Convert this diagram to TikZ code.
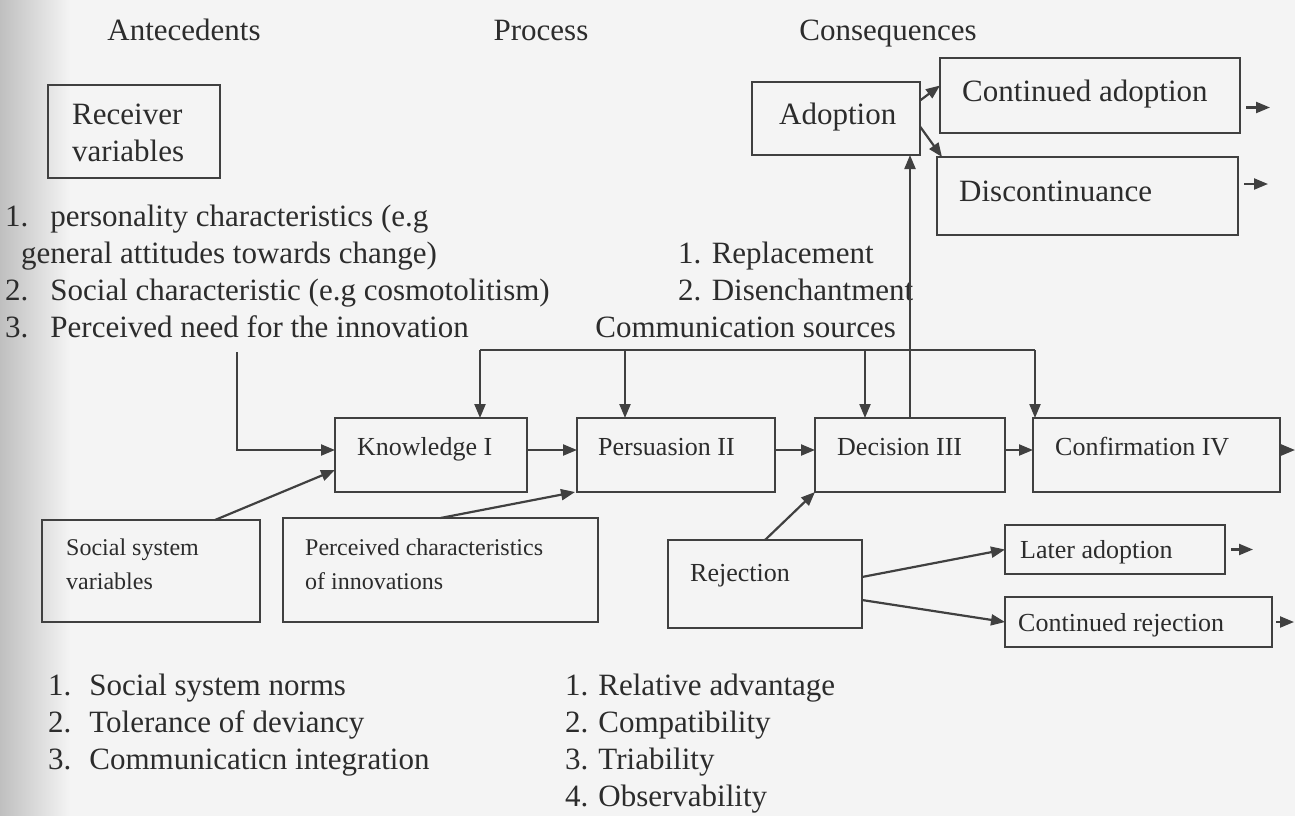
\documentclass[tikz,border=0pt]{standalone}
\usepackage{fontspec}
\setmainfont{Liberation Serif}
\usetikzlibrary{arrows.meta}
\definecolor{ink}{HTML}{2C2C2C}
\definecolor{lin}{HTML}{404040}
\definecolor{bg}{HTML}{F4F4F4}
\newcommand\fbig{\fontsize{31}{37}\selectfont}
\newcommand\fmid{\fontsize{26}{34}\selectfont}
\newcommand\fsml{\fontsize{24}{34}\selectfont}
\newcommand\mkbox[5]{\node[box, minimum width={#4pt-#2pt}, minimum height={#5pt-#3pt}] (#1) at (#2,#3) {};}
\begin{document}
\begin{tikzpicture}[x=1pt,y=-1pt,
  box/.style={draw=lin, line width=2.2pt, anchor=north west, inner sep=0pt, outer sep=0pt},
  conn/.style={draw=lin, line width=2.2pt, -{Triangle[length=14pt,width=11pt]}},
  plain/.style={draw=lin, line width=2.2pt},
  txt/.style={text=ink, inner sep=0pt, anchor=base west},
  hdr/.style={text=ink, inner sep=0pt, anchor=base, font=\fbig}]
\useasboundingbox (0,0) rectangle (1295,816);
\fill[bg] (0,0) rectangle (1295,816);
\shade[left color=black!25, right color=bg] (0,0) rectangle (70,816);

% headers
\node[hdr] (hA) at (184,41) {Antecedents};
\node[hdr] (hP) at (541,41) {Process};
\node[hdr] (hC) at (888,41) {Consequences};

% receiver variables
\mkbox{rv}{48}{85}{220}{178}
\node[txt, font=\fbig] (rvt) at (72,124) {\begin{tabular}[t]{@{}l@{}}Receiver\\variables\end{tabular}};
\node[txt, font=\fbig] (rvl) at (5,226) {\begin{tabular}[t]{@{}l@{\hspace{22pt}}l@{}}
1. & personality characteristics (e.g\\
\multicolumn{2}{@{}l@{}}{\hspace{16pt}general attitudes towards change)}\\
2. & Social characteristic (e.g cosmotolitism)\\
3. & Perceived need for the innovation
\end{tabular}};

% consequences (adoption)
\mkbox{ad}{752}{82}{920}{155}
\node[txt, font=\fbig] (adt) at (779,124) {Adoption};
\mkbox{ca}{940}{58}{1240}{133}
\node[txt, font=\fbig] (cat) at (962,101) {Continued adoption};
\mkbox{dc}{937}{157}{1238}{235}
\node[txt, font=\fbig] (dct) at (959,201) {Discontinuance};

% discontinuance reasons and communication sources
\node[txt, font=\fbig] (rep) at (678,263) {\begin{tabular}[t]{@{}l@{}}1. Replacement\\2. Disenchantment\end{tabular}};
\node[txt, font=\fbig, anchor=base east] (cs) at (896,337) {Communication sources};

% process boxes
\mkbox{kn}{335}{418}{527}{492}
\node[txt, font=\fmid] (knt) at (357,455) {Knowledge I};
\mkbox{pe}{577}{418}{775}{492}
\node[txt, font=\fmid] (pet) at (598,455) {Persuasion II};
\mkbox{de}{815}{418}{1005}{492}
\node[txt, font=\fmid] (det) at (837,455) {Decision III};
\mkbox{co}{1033}{418}{1280}{492}
\node[txt, font=\fmid] (cot) at (1055,455) {Confirmation IV};

% lower boxes
\mkbox{ss}{42}{520}{260}{622}
\node[txt, font=\fsml] (sst) at (66,555) {\begin{tabular}[t]{@{}l@{}}Social system\\variables\end{tabular}};
\mkbox{pc}{283}{518}{598}{622}
\node[txt, font=\fsml] (pct) at (305,555) {\begin{tabular}[t]{@{}l@{}}Perceived characteristics\\of innovations\end{tabular}};
\mkbox{rj}{668}{540}{862}{628}
\node[txt, font=\fmid] (rjt) at (690,581) {Rejection};
\mkbox{la}{1005}{525}{1225}{574}
\node[txt, font=\fmid] (lat) at (1020,558) {Later adoption};
\mkbox{cr}{1005}{597}{1272}{647}
\node[txt, font=\fmid] (crt) at (1018,631) {Continued rejection};

% bottom lists
\node[txt, font=\fbig] (sl) at (48,695) {\begin{tabular}[t]{@{}l@{\hspace{18pt}}l@{}}
1. & Social system norms\\
2. & Tolerance of deviancy\\
3. & Communicaticn integration
\end{tabular}};
\node[txt, font=\fbig] (pl) at (565,695) {\begin{tabular}[t]{@{}l@{\hspace{10pt}}l@{}}
1. & Relative advantage\\
2. & Compatibility\\
3. & Triability\\
4. & Observability
\end{tabular}};

% connectors
\coordinate (rv0) at (237,352);
\draw[conn] (rv0) |- ([yshift=5pt]kn.west);
\coordinate (cmL) at (480,350);
\coordinate (cmP) at (625,350);
\coordinate (cmD) at (865,350);
\coordinate (cmR) at (1035,350);
\draw[plain] (cmL) -- (cmR);
\draw[conn] (cmL) -- (cmL |- kn.north);
\draw[conn] (cmP) -- (cmP |- pe.north);
\draw[conn] (cmD) -- (cmD |- de.north);
\draw[conn] (cmR) -- (cmR |- co.north);
\draw[conn] (de.north) -- (de.north |- ad.south);

\draw[conn] ([yshift=5pt]kn.east) -- ([yshift=5pt]pe.west);
\draw[conn] ([yshift=5pt]pe.east) -- ([yshift=5pt]de.west);
\draw[conn] ([yshift=5pt]de.east) -- ([yshift=5pt]co.west);
\draw[conn] ([xshift=3pt,yshift=5pt]co.east) -- ++(12,0);

\draw[conn] ([yshift=18pt]ad.east) -- ([yshift=10pt]ca.west);
\draw[conn] ([yshift=-8pt]ad.east) -- ([xshift=5pt]dc.north west);
\draw[conn] ([xshift=6pt,yshift=-12pt]ca.east) -- ++(24,0);
\draw[conn] ([xshift=6pt,yshift=12pt]dc.east) -- ++(24,0);

\draw[conn] ([xshift=-45pt]ss.north east) -- ([yshift=-15pt]kn.west);
\draw[conn] (pc.north) -- ([xshift=-2pt]pe.south west);
\draw[conn] (rj.north) -- (de.south west);
\draw[conn] ([yshift=7pt]rj.east) -- (la.west);
\draw[conn] ([yshift=-16pt]rj.east) -- (cr.west);
\draw[conn] ([xshift=6pt]la.east) -- ++(22,0);
\draw[conn] ([xshift=4pt]cr.east) -- ++(18,0);
\end{tikzpicture}
\end{document}
